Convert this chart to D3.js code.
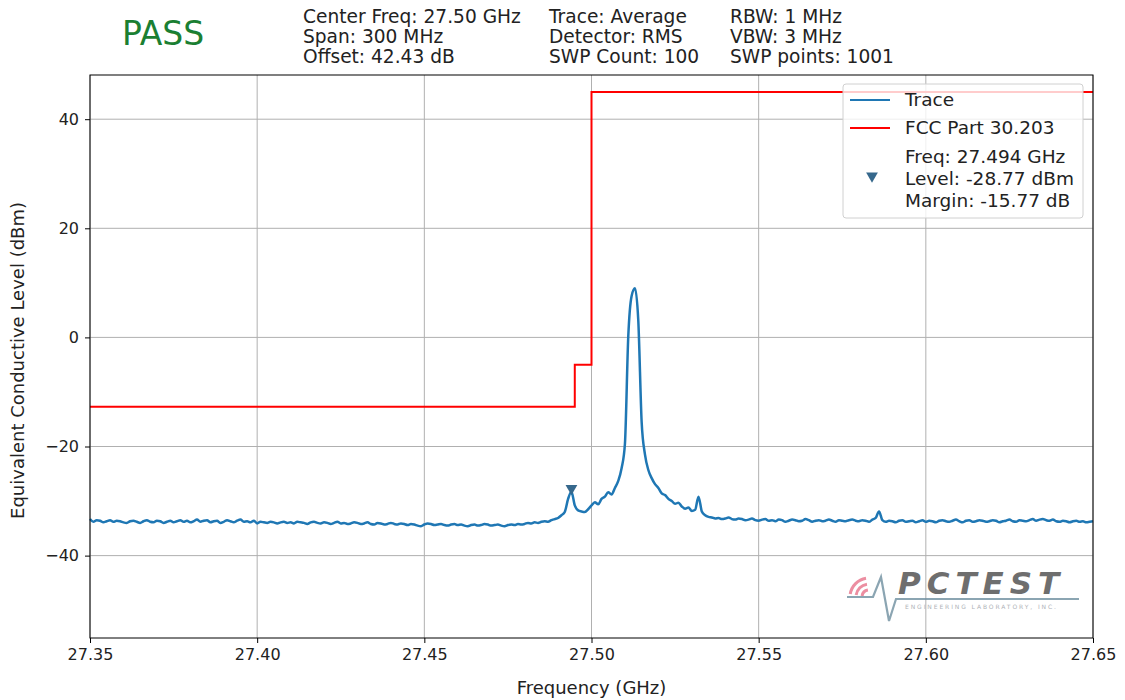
<!DOCTYPE html>
<html>
<head>
<meta charset="utf-8">
<title>Conducted spurious emissions</title>
<script src="https://d3js.org/d3.v7.min.js"></script>
<style>
  body { margin: 0; background: #fff; }
  svg text { font-family: "DejaVu Sans", sans-serif; fill: #222; }
</style>
</head>
<body>
<div id="chart"></div>
<script>
// Sweep settings
var startFreq = 27.35;   // GHz
var stepFreq = 0.001;    // GHz between trace points

// Trace levels (dBm), one per step from startFreq
var traceLevel = [
  -33.3,-33.8,-33.5,-33.6,-33.9,-33.7,-33.5,-33.8,-33.6,-33.7,
  -33.9,-34.0,-33.7,-33.6,-33.8,-34.0,-33.7,-33.5,-33.8,-33.9,
  -33.6,-33.7,-34.0,-33.8,-33.6,-33.9,-33.7,-33.5,-33.8,-33.6,
  -33.9,-33.7,-33.4,-33.8,-33.6,-33.5,-33.9,-33.7,-33.6,-34.0,
  -33.8,-33.5,-33.7,-33.9,-33.6,-33.4,-33.8,-33.7,-33.9,-33.6,
  -34.1,-33.8,-33.9,-34.0,-33.8,-33.9,-34.1,-33.9,-33.8,-34.0,
  -33.9,-34.1,-33.8,-33.9,-34.0,-34.2,-33.9,-33.8,-34.0,-34.1,
  -33.9,-34.0,-34.2,-34.0,-33.8,-34.1,-34.0,-34.2,-34.1,-33.9,
  -34.0,-34.2,-34.1,-33.9,-34.2,-34.3,-34.0,-34.1,-34.3,-34.2,
  -34.0,-34.2,-34.3,-34.1,-34.2,-34.4,-34.2,-34.3,-34.5,-34.6,
  -34.3,-34.1,-34.2,-34.4,-34.3,-34.2,-34.4,-34.5,-34.3,-34.2,
  -34.4,-34.3,-34.5,-34.6,-34.4,-34.3,-34.5,-34.4,-34.2,-34.3,
  -34.5,-34.4,-34.3,-34.5,-34.6,-34.4,-34.3,-34.4,-34.2,-34.3,
  -34.2,-34.0,-34.1,-33.9,-34.0,-33.8,-33.7,-33.8,-33.5,-33.3,
  -33.1,-32.6,-32.0,
  -29.6,-28.3,-30.8,-31.7,-31.9,-32.0,-31.5,-30.8,-30.2,-30.6,
  -29.6,-29.2,-28.4,-28.8,-27.6,-26.3,-24.0,
  -19.5,0.2,7.6,9.0,3.0,-15.5,-21.5,-24.3,-25.8,-26.9,
  -27.6,-28.6,-28.9,-29.6,-30.0,-30.5,-30.3,-31.0,-31.4,-31.2,
  -31.8,-31.6,-29.2,-31.9,-32.6,-32.9,-33.0,-33.2,
  -33.1,-33.3,-33.2,-33.0,-33.3,-33.4,-33.2,-33.3,-33.5,-33.4,
  -33.2,-33.5,-33.6,-33.4,-33.3,-33.6,-33.5,-33.7,-33.4,-33.5,
  -33.8,-33.6,-33.4,-33.5,-33.7,-33.6,-33.3,-33.5,-33.8,-33.6,
  -33.5,-33.7,-33.6,-33.4,-33.6,-33.8,-33.5,-33.6,-33.7,-33.5,
  -33.4,-33.6,-33.7,-33.5,-33.6,-33.8,-33.4,-33.1,
  -31.9,
  -33.5,-33.8,-33.6,-33.7,-33.9,-33.6,-33.5,-33.8,-33.7,-33.6,
  -33.9,-33.7,-33.5,-33.8,-33.6,-33.7,-33.9,-33.6,-33.5,-33.7,
  -33.8,-33.6,-33.4,-33.7,-33.9,-33.6,-33.5,-33.8,-33.7,-33.5,
  -33.6,-33.8,-33.7,-33.5,-33.6,-33.9,-33.7,-33.6,-33.4,-33.7,
  -33.8,-33.5,-33.6,-33.7,-33.5,-33.3,-33.6,-33.4,-33.3,-33.5,
  -33.6,-33.4,-33.7,-33.8,-33.6,-33.7,-33.9,-33.7,-33.6,-33.8,
  -33.7,-33.9,-33.8,-33.7
];

// FCC Part 30.203 limit (step after each break frequency)
var limitFreq  = [27.35, 27.495, 27.500, 27.65];
var limitLevel = [-12.7, -5.0, 45.0, 45.0];

// Marker
var markerFreq = 27.494;
var markerLevel = -28.77;
var markerMargin = -15.77;

// Axis ticks
var xTicks = [27.35, 27.40, 27.45, 27.50, 27.55, 27.60, 27.65];
var yTicks = [-40, -20, 0, 20, 40];

// Header text
var headerCols = [
  ["Center Freq: 27.50 GHz", "Span: 300 MHz", "Offset: 42.43 dB"],
  ["Trace: Average", "Detector: RMS", "SWP Count: 100"],
  ["RBW: 1 MHz", "VBW: 3 MHz", "SWP points: 1001"]
];
var verdict = "PASS";

const width = 1125, height = 700;
const margin = {top: 75, right: 32, bottom: 62, left: 90};
const plotWidth = width - margin.left - margin.right;
const plotHeight = height - margin.top - margin.bottom;

var svg = d3.select("#chart").append("svg")
  .attr("width", width)
  .attr("height", height);

var xScale = d3.scaleLinear().domain([27.35, 27.65]).range([0, plotWidth]);
var yScale = d3.scaleLinear().domain([-55.1, 48.1]).range([plotHeight, 0]);

var g = svg.append("g")
  .attr("transform", "translate(" + margin.left + "," + margin.top + ")");

// Grid
g.append("g").selectAll("line").data(xTicks).enter().append("line")
  .attr("x1", d => xScale(d)).attr("x2", d => xScale(d))
  .attr("y1", 0).attr("y2", plotHeight)
  .attr("stroke", "#b0b0b0").attr("stroke-width", 1);
g.append("g").selectAll("line").data(yTicks).enter().append("line")
  .attr("x1", 0).attr("x2", plotWidth)
  .attr("y1", d => yScale(d)).attr("y2", d => yScale(d))
  .attr("stroke", "#b0b0b0").attr("stroke-width", 1);

// Logo (watermark, bottom right)
var logo = g.append("g")
  .attr("transform", "translate(" + (plotWidth - 250) + "," + (plotHeight - 63) + ")")
  .attr("opacity", 0.8);
[7, 13, 19].forEach(function(r) {
  logo.append("path")
    .attr("d", d3.arc()({innerRadius: r - 1.5, outerRadius: r + 1.5,
      startAngle: -Math.PI * 0.45, endAngle: -Math.PI * 0.05}))
    .attr("transform", "translate(26,22)")
    .attr("fill", "#e8728a");
});
logo.append("path")
  .attr("d", "M4,22 L30,22 L38,2 L46,46 L53,24 L236,24")
  .attr("fill", "none").attr("stroke", "#6f8fa0").attr("stroke-width", 2.2);
logo.append("text")
  .attr("x", 55).attr("y", 19)
  .attr("font-size", 31).attr("font-weight", "bold").attr("font-style", "italic")
  .attr("letter-spacing", 6)
  .style("fill", "#4a4a4a")
  .text("PCTEST");
logo.append("text")
  .attr("x", 62).attr("y", 34)
  .attr("font-size", 6).attr("letter-spacing", 1.9)
  .style("fill", "#9aa0a6")
  .text("ENGINEERING LABORATORY, INC.");

// Limit line
var limitLine = d3.line()
  .x((d, i) => xScale(limitFreq[i]))
  .y(d => yScale(d))
  .curve(d3.curveStepAfter);
g.append("path")
  .datum(limitLevel)
  .attr("d", limitLine)
  .attr("fill", "none").attr("stroke", "#ff0000").attr("stroke-width", 2);

// Trace
var traceLine = d3.line()
  .x((d, i) => xScale(startFreq + i * stepFreq))
  .y(d => yScale(d))
  .curve(d3.curveMonotoneX);
g.append("path")
  .datum(traceLevel)
  .attr("d", traceLine)
  .attr("fill", "none").attr("stroke", "#1f77b4").attr("stroke-width", 2.5)
  .attr("stroke-linejoin", "round");

// Marker
var tri = d3.symbol().type(d3.symbolTriangle).size(60);
g.append("path")
  .attr("d", tri())
  .attr("transform", "translate(" + xScale(markerFreq) + "," + (yScale(markerLevel) - 6) + ") rotate(180)")
  .attr("fill", "#36688c");

// Axes
g.append("g")
  .attr("transform", "translate(0," + plotHeight + ")")
  .call(d3.axisBottom(xScale).tickValues(xTicks).tickFormat(d3.format(".2f")).tickSize(5).tickPadding(6))
  .call(a => a.select(".domain").remove())
  .selectAll("text").attr("font-size", 16).style("font-family", "DejaVu Sans");
g.append("g")
  .call(d3.axisLeft(yScale).tickValues(yTicks).tickSize(5).tickPadding(6))
  .call(a => a.select(".domain").remove())
  .selectAll("text").attr("font-size", 16).style("font-family", "DejaVu Sans");

// Frame
g.append("rect")
  .attr("width", plotWidth).attr("height", plotHeight)
  .attr("fill", "none").attr("stroke", "#000").attr("stroke-width", 1);

// Axis labels
svg.append("text")
  .attr("x", margin.left + plotWidth / 2).attr("y", 694)
  .attr("text-anchor", "middle").attr("font-size", 18)
  .text("Frequency (GHz)");
svg.append("text")
  .attr("transform", "translate(24," + (margin.top + plotHeight / 2 + 4) + ") rotate(-90)")
  .attr("text-anchor", "middle").attr("font-size", 18)
  .text("Equivalent Conductive Level (dBm)");

// Legend
var legend = svg.append("g").attr("transform", "translate(843,84)");
legend.append("rect")
  .attr("width", 240).attr("height", 134).attr("rx", 3)
  .attr("fill", "#fff").attr("fill-opacity", 0.8)
  .attr("stroke", "#d0d0d0");
legend.append("line").attr("x1", 7).attr("x2", 47).attr("y1", 16).attr("y2", 16)
  .attr("stroke", "#1f77b4").attr("stroke-width", 2);
legend.append("text").attr("x", 62).attr("y", 22).attr("font-size", 18.5).text("Trace");
legend.append("line").attr("x1", 7).attr("x2", 47).attr("y1", 44).attr("y2", 44)
  .attr("stroke", "#ff0000").attr("stroke-width", 2);
legend.append("text").attr("x", 62).attr("y", 50).attr("font-size", 18.5).text("FCC Part 30.203");
legend.append("path").attr("d", tri())
  .attr("transform", "translate(29,92) rotate(180)")
  .attr("fill", "#36688c");
var markerText = [
  "Freq: " + markerFreq.toFixed(3) + " GHz",
  "Level: " + markerLevel.toFixed(2) + " dBm",
  "Margin: " + markerMargin.toFixed(2) + " dB"
];
legend.selectAll(".mtext").data(markerText).enter().append("text")
  .attr("class", "mtext")
  .attr("x", 62).attr("y", (d, i) => 79 + i * 22)
  .attr("font-size", 18.5)
  .text(d => d);

// Header
svg.append("text")
  .attr("x", 122).attr("y", 45)
  .attr("font-size", 33)
  .style("fill", "#1b7f32")
  .text(verdict);
var colX = [303, 549, 730];
headerCols.forEach(function(col, c) {
  svg.selectAll(".h" + c).data(col).enter().append("text")
    .attr("x", colX[c]).attr("y", (d, i) => 23 + i * 20)
    .attr("font-size", 18.6)
    .text(d => d);
});
</script>
</body>
</html>
